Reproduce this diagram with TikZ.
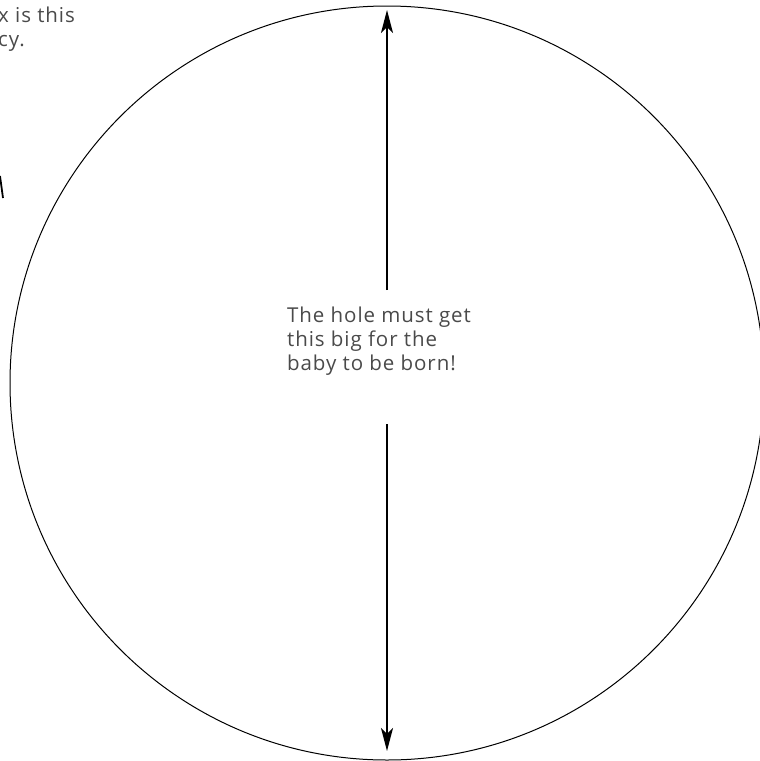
\documentclass[tikz,border=0pt]{standalone}
\usepackage{fontspec}
\setmainfont{Open Sans}[LetterSpace=4.5]
\usetikzlibrary{arrows.meta}
\definecolor{txt}{HTML}{4A4A4A}
\tikzset{
  lbl/.style={text=txt, font=\fontsize{20.5}{24}\selectfont, align=left, inner sep=0pt},
  dimarrow/.style={line width=2.2pt, -{Stealth[length=23pt,width=12pt,inset=6pt]}},
  hole/.style={draw, line width=1pt}
}
\begin{document}
\begin{tikzpicture}[x=1pt,y=-1pt]
\useasboundingbox (0,0) rectangle (760,761);
\draw[hole] (387,383) circle (377);
\node[lbl, anchor=base west] (note) at (287,370) {The hole must get\\this big for the\\baby to be born!};
\node[lbl, anchor=base west] (cut) at (-2,46) {x is this\\cy.};
\coordinate (upstart) at (387,290);
\coordinate (uptip) at (387,10);
\coordinate (dnstart) at (387,424);
\coordinate (dntip) at (387,751);
\draw[dimarrow] (upstart) -- (uptip);
\draw[dimarrow] (dnstart) -- (dntip);
\coordinate (fa) at (0,176);
\coordinate (fb) at (3,198);
\draw[line width=1.8pt] (fa) -- (fb);
\end{tikzpicture}
\end{document}
